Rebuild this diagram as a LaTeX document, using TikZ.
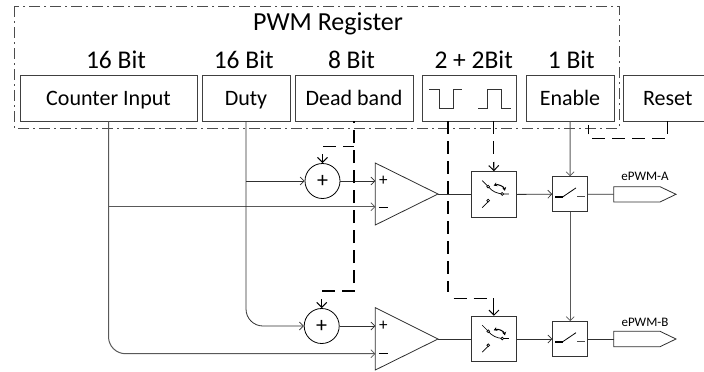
\documentclass[tikz,border=0pt]{standalone}
\usepackage{fontspec}
\setmainfont{Carlito}
\usetikzlibrary{arrows.meta}
\definecolor{ln}{HTML}{303030}
\tikzset{
  x=1pt,y=-1pt,
  wire/.style={draw=ln,line width=0.8pt},
  gwire/.style={draw=black!65,line width=1pt},
  arr/.style={-{Straight Barb[length=4pt,width=8pt,line width=0.7pt]}},
  dwire/.style={draw=black,line width=1.15pt,dash pattern=on 13pt off 7pt},
  darr/.style={draw=black,line width=1.15pt,-{Straight Barb[length=5pt,width=10pt,line width=1pt]}},
  regbox/.style={draw=black!75,line width=0.8pt,inner sep=0pt,font=\fontsize{22}{22}\selectfont,text depth=0pt,text height=15pt},
  bitlabel/.style={inner sep=0pt,font=\fontsize{25.5}{25.5}\selectfont},
  blk/.style={draw=black!80,line width=0.9pt,inner sep=0pt},
  adder/.style={draw=black,circle,line width=0.8pt,inner sep=0pt,minimum size=35pt,font=\fontsize{22}{22}\selectfont},
  sign/.style={inner sep=0pt,font=\fontsize{17}{17}\selectfont},
  taglabel/.style={inner sep=0pt,font=\fontsize{13}{13}\selectfont},
}
\begin{document}
\begin{tikzpicture}
\useasboundingbox (0,0) rectangle (704,372);
% register frame
\draw[draw=black!70,line width=0.8pt,dash pattern=on 11pt off 4pt on 2pt off 4pt] (14,6) rectangle (619,128);
\node[inner sep=0pt,font=\fontsize{26}{26}\selectfont] (title) at (328,23.5) {PWM Register};
% register boxes
\node[regbox,minimum width=177pt,minimum height=45.5pt] (cnt) at (108.5,98.2) {Counter Input};
\node[regbox,minimum width=88pt,minimum height=45.5pt] (duty) at (246,98.2) {Duty};
\node[regbox,minimum width=118pt,minimum height=45.5pt] (dead) at (354,98.2) {Dead band};
\node[regbox,minimum width=94.5pt,minimum height=45.5pt] (pulse) at (469.2,98.2) {};
\node[regbox,minimum width=88pt,minimum height=45.5pt] (en) at (570,98.2) {Enable};
\node[regbox,minimum width=88pt,minimum height=45.5pt] (rst) at (667.7,98.2) {Reset};
\node[bitlabel] (b1) at (116,60) {16 Bit};
\node[bitlabel] (b2) at (243.7,60) {16 Bit};
\node[bitlabel] (b3) at (351.5,60) {8 Bit};
\node[bitlabel] (b4) at (473.7,60) {2 + 2Bit};
\node[bitlabel] (b5) at (571.3,60) {1 Bit};
% pulse icons
\draw[black!80,line width=0.9pt] (429,89) -- (439.3,89) -- (439.3,108.3) -- (453,108.3) -- (453,89) -- (462,89);
\draw[black!80,line width=0.9pt] (478,108.3) -- (487.3,108.3) -- (487.3,89) -- (501.3,89) -- (501.3,108.3) -- (511,108.3);
% adders
\node[adder] (add1) at (322.5,181) {+};
\node[adder] (add2) at (321.7,326) {+};
% comparators
\draw[wire,fill=white] (375.3,163) -- (438,194) -- (375.3,225) -- cycle;
\draw[wire,fill=white] (375.3,307.7) -- (438,339) -- (375.3,370) -- cycle;
\coordinate (c1p) at (375.3,181);
\coordinate (c1m) at (375.3,206.7);
\coordinate (c1o) at (438,194);
\coordinate (c2p) at (375.3,326);
\coordinate (c2m) at (375.3,353.7);
\coordinate (c2o) at (438,339);
\node[sign] (s1) at (383.3,180.5) {+};
\node[sign] (s2) at (383.3,207.5) {\rule{9pt}{1pt}};
\node[sign] (s3) at (383.3,325.5) {+};
\node[sign] (s4) at (383.3,353) {\rule{9pt}{1pt}};
% mux blocks
\node[blk,minimum width=45.7pt,minimum height=45.5pt] (mux1) at (493.9,194.4) {};
\node[blk,minimum width=45.7pt,minimum height=45.5pt] (mux2) at (493.9,339) {};
\foreach \m in {mux1,mux2}{
\begin{scope}[shift={(\m.center)},line width=0.7pt]
\draw (-11.7,-13.8) -- (-5.7,-7.8) .. controls (-2,-3) and (3,-1) .. (8.3,-0.5) -- (15,-0.5);
\draw[fill=white] (-5.7,-7.8) circle (1.4pt);
\draw[fill=white] (8.3,-0.5) circle (1.4pt);
\draw (-11.7,13.2) -- (-5.7,7.2);
\draw[fill=white] (-5.7,6.2) circle (1.4pt);
\draw[line width=1pt,{Stealth[length=3.5pt,width=4pt]}-{Stealth[length=3.5pt,width=4pt]}] (-0.2,-8.8) .. controls (4,-10.5) and (10,-8) .. (11,-3.6);
\end{scope}}
% switch blocks
\node[blk,minimum width=35pt,minimum height=35pt] (sw1) at (570.2,194.2) {};
\node[blk,minimum width=35pt,minimum height=35pt] (sw2) at (570.2,339) {};
\foreach \m in {sw1,sw2}{
\begin{scope}[shift={(\m.center)}]
\draw[line width=1.6pt] (-15,2.7) -- (-7.5,2.7);
\draw[line width=0.8pt] (-7.5,2.7) -- (5.8,-6.3);
\draw[line width=1pt,black!70] (7,2.7) -- (14.8,2.7);
\end{scope}}
% output tags
\draw[wire] (613.7,186.7) -- (660,186.7) -- (676,194.3) -- (660,202) -- (613.7,202) -- cycle;
\draw[wire] (613.7,331.3) -- (660,331.3) -- (676,339) -- (660,346.7) -- (613.7,346.7) -- cycle;
\coordinate (t1) at (613.7,194.3);
\coordinate (t2) at (613.7,339);
\node[taglabel] (la) at (645,176.7) {ePWM-A};
\node[taglabel] (lb) at (645,322) {ePWM-B};
% solid connectors
\coordinate (c1br) at (108.5,206.7);
\coordinate (d1br) at (246,181);
\draw[gwire,arr,rounded corners=17pt] (cnt.south) -- (108.5,353.7) -- (c2m);
\draw[gwire,arr] (c1br) -- (c1m);
\draw[wire,arr,rounded corners=17pt] (duty.south) -- (246,326) -- (add2.west);
\draw[wire,arr] (d1br) -- (add1.west);
\draw[wire,arr] (add1.east) -- (c1p);
\draw[wire,arr] (add2.east) -- (c2p);
\draw[wire] (c1o) -- (mux1.west |- c1o);
\draw[wire] (c2o) -- (mux2.west);
\draw[wire,arr] (mux1.east) -- (sw1.west);
\draw[wire,arr] (mux2.east) -- (sw2.west);
\draw[wire] (sw1.east) -- (t1);
\draw[wire] (sw2.east) -- (t2);
\draw[gwire,arr] (en.south) -- (sw1.north);
\draw[gwire,arr] (sw1.south) -- (sw2.north);
% dashed connectors
\coordinate (pa) at (448,121);
\coordinate (pb) at (493.7,121);
\coordinate (fr) at (588.7,125);
\draw[dwire] (322,291) -- (354,291) -- (dead.south);
\draw[dwire] (323,146.7) -- (354,146.7);
\draw[darr] (322.5,154) -- (add1.north);
\draw[darr] (321.7,299) -- (add2.north);
\draw[dwire] (pa) -- (448,291.5);
\draw[dwire] (453.7,298.7) -- (487,298.7);
\draw[darr] (mux2.north |- 0,298) -- (mux2.north);
\draw[dwire] (pb) -- (493.7,156);
\draw[darr] (493.7,162) -- (mux1.north);
\draw[dwire] (rst.south) -- (rst.south |- 0,138.3) -- (588.7,138.3) -- (fr);
\end{tikzpicture}
\end{document}
